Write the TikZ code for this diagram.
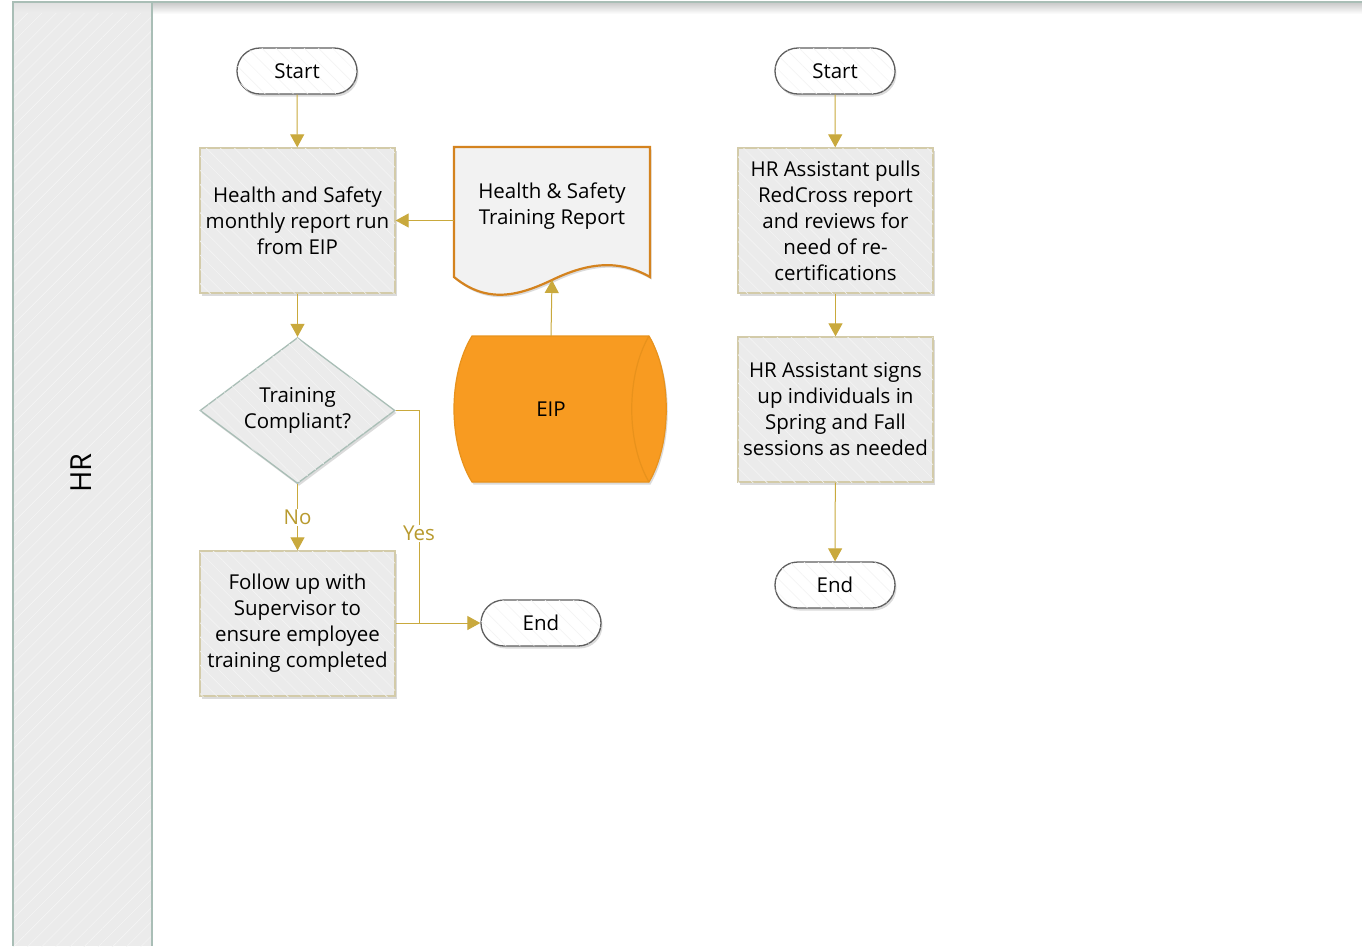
\documentclass[tikz,border=0pt]{standalone}
\usepackage{fontspec}
\setmainfont{Open Sans}
\usetikzlibrary{arrows.meta,shapes.geometric,shadows,patterns.meta}

\definecolor{linkgold}{HTML}{C9A93D}
\definecolor{labelgold}{HTML}{B89A2E}
\definecolor{boxfill}{HTML}{EBEBEB}
\definecolor{stripe}{HTML}{F4F4F4}
\definecolor{boxedge}{HTML}{D3CBA9}
\definecolor{laneedge}{HTML}{A9BEB6}
\definecolor{termedge}{HTML}{5F5F5F}
\definecolor{docedge}{HTML}{D4831F}
\definecolor{docfill}{HTML}{F2F2F2}
\definecolor{dbfill}{HTML}{F89B21}
\definecolor{dbedge}{HTML}{E8921C}

\tikzset{
  txt/.style={font=\fontsize{20.5}{26}\selectfont, text=black, align=center},
  hatchwhite/.style={postaction={pattern={Lines[angle=-45,distance=10pt,line width=0.6pt]}, pattern color=stripe}},
  hatchlane/.style={postaction={pattern={Lines[angle=45,distance=10pt,line width=0.6pt]}, pattern color=stripe}},
  hatchgrey/.style={postaction={pattern={Lines[angle=-45,distance=10pt,line width=0.5pt]}, pattern color=black!5}},
  softshadow/.style={drop shadow={shadow xshift=1.5pt, shadow yshift=-2.5pt, opacity=0.2, fill=black!70}},
  term/.style={txt, rectangle, rounded corners=22.9pt, minimum width=120pt, minimum height=46pt,
    draw=termedge, line width=1.3pt, fill=white, hatchgrey, softshadow},
  proc/.style={txt, rectangle, minimum width=195pt, minimum height=145pt, inner sep=2pt,
    draw=boxedge, line width=1.3pt, fill=boxfill, hatchwhite, softshadow},
  decision/.style={txt, diamond, aspect=1.336, minimum width=195pt, minimum height=146pt, inner sep=0pt,
    draw=laneedge, line width=1.3pt, fill=boxfill, hatchwhite, softshadow},
  link/.style={draw=linkgold, line width=1pt, -{Triangle[length=13pt,width=14pt]}},
  plainlink/.style={draw=linkgold, line width=1pt},
  choice/.style={txt, text=labelgold, fill=white, inner sep=1pt},
}

\begin{document}
\begin{tikzpicture}[x=1pt,y=-1pt]
  \useasboundingbox (0,0) rectangle (1362,946);
  \fill[white] (0,0) rectangle (1362,946);

  % swimlane: header column and pool frame
  \shade[top color=black!22, bottom color=white] (152,2) rectangle (1362,14);
  \fill[boxfill, hatchlane] (13,2) rectangle (152,946);
  \shade[top color=black!12, bottom color=boxfill] (14,2) rectangle (151,12);
  \draw[laneedge, line width=2pt] (13,946) -- (13,1.5) -- (1362,1.5);
  \draw[laneedge, line width=2pt] (152,1.5) -- (152,946);
  \node[txt, rotate=90, font=\fontsize{29}{30}\selectfont] (lane) at (81,473) {HR};

  % left flow
  \node[term] (s1) at (297,71) {Start};
  \node[proc] (p1) at (297.5,220.5) {Health and Safety\\monthly report run\\from EIP};
  \node[decision] (d1) at (297.5,410.5) {Training\\Compliant?};
  \node[proc] (p2) at (297.5,623.5) {Follow up with\\Supervisor to\\ensure employee\\training completed};
  \node[term] (e1) at (541,623) {End};

  % report document
  \draw[docedge, line width=2.2pt, fill=docfill, softshadow]
    (454,147) -- (650,147) -- (650,277)
    .. controls (617,258) and (585,264) .. (552,280)
    .. controls (520,295) and (488,305) .. (454,277) -- cycle;
  \node[txt] (doc) at (552,206) {Health \& Safety\\Training Report};
  \coordinate (docL) at (454,220.5);
  \coordinate (docB) at (552,280);

  % EIP data store
  \draw[dbedge, line width=1.2pt, fill=dbfill, softshadow]
    (472,336) -- (649,336)
    .. controls (672,375) and (672,443) .. (649,482)
    -- (472,482)
    .. controls (448,443) and (448,375) .. (472,336) -- cycle;
  \draw[dbedge, line width=1.2pt] (649,336) .. controls (626,375) and (626,443) .. (649,482);
  \node[txt] (eip) at (551,409) {EIP};
  \coordinate (eipT) at (551,336);

  % right flow
  \node[term] (s2) at (835,71) {Start};
  \node[proc] (p3) at (835.5,220.5) {HR Assistant pulls\\RedCross report\\and reviews for\\need of re-\\certifications};
  \node[proc] (p4) at (835.5,409.5) {HR Assistant signs\\up individuals in\\Spring and Fall\\sessions as needed};
  \node[term] (e2) at (835,585) {End};

  % connectors
  \coordinate (yesJ) at (419,623);
  \draw[link] (s1) -- (p1);
  \draw[link] (docL) -- (p1.east);
  \draw[link] (eipT) -- (docB);
  \draw[link] (p1) -- (d1);
  \draw[link] (d1.south) -- node[choice] {No} (p2.north);
  \draw[plainlink] (d1.east) -| (yesJ) node[choice, pos=0.79] {Yes};
  \draw[link] (p2.east |- e1.west) -- (e1.west);
  \draw[link] (s2) -- (p3);
  \draw[link] (p3) -- (p4);
  \draw[link] (p4) -- (e2);
\end{tikzpicture}
\end{document}
